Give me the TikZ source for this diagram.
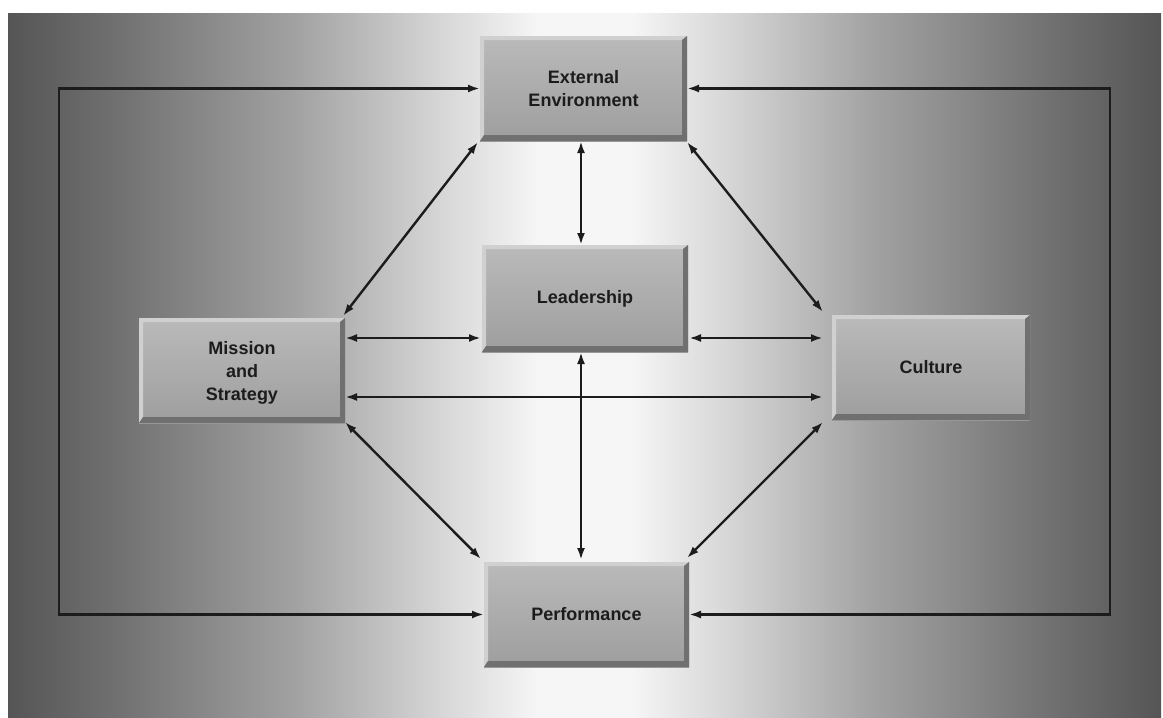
\documentclass[tikz,border=0pt]{standalone}
\usepackage{fontspec}
\setmainfont{Liberation Sans}
\usetikzlibrary{arrows.meta,calc}
\definecolor{g1}{HTML}{555555}
\definecolor{g2}{HTML}{727272}
\definecolor{g3}{HTML}{A2A2A2}
\definecolor{g4}{HTML}{D8D8D8}
\definecolor{g5}{HTML}{F6F6F6}
\definecolor{boxtop}{HTML}{BABABA}
\definecolor{boxbot}{HTML}{9E9E9E}
\definecolor{bevlight}{HTML}{D0D0D0}
\definecolor{bevdark}{HTML}{707070}
\definecolor{ink}{HTML}{1C1C1C}
\pgfdeclarehorizontalshading{bgshade}{100bp}{color(0bp)=(g1); color(25bp)=(g1); color(30bp)=(g2); color(37.5bp)=(g3); color(44bp)=(g4); color(48bp)=(g5); color(52bp)=(g5); color(56bp)=(g4); color(62.5bp)=(g3); color(70bp)=(g2); color(75bp)=(g1); color(100bp)=(g1)}
\begin{document}
\begin{tikzpicture}[x=1pt,y=-1pt,
  boxnode/.style={rectangle, inner sep=0pt, outer sep=0pt, top color=boxtop, bottom color=boxbot,
    minimum height=105pt, align=center, text=ink,
    font=\bfseries\fontsize{18}{23}\selectfont,
    path picture={
      \fill[bevlight] (path picture bounding box.north west) -- (path picture bounding box.north east)
        -- ([xshift=-5pt,yshift=-4pt]path picture bounding box.north east)
        -- ([xshift=4pt,yshift=-4pt]path picture bounding box.north west)
        -- ([xshift=4pt,yshift=6pt]path picture bounding box.south west)
        -- (path picture bounding box.south west) -- cycle;
      \fill[bevdark] (path picture bounding box.south west) -- (path picture bounding box.south east)
        -- (path picture bounding box.north east)
        -- ([xshift=-5pt,yshift=-4pt]path picture bounding box.north east)
        -- ([xshift=-5pt,yshift=6pt]path picture bounding box.south east)
        -- ([xshift=4pt,yshift=6pt]path picture bounding box.south west) -- cycle;
    }},
  link/.style={draw=ink, line width=2.4pt, {Latex[length=12pt,width=8pt]}-{Latex[length=12pt,width=8pt]}},
  framelink/.style={link, line join=miter}
]
\useasboundingbox (0,0) rectangle (1163,718);
\fill[white] (0,0) rectangle (1163,718);
\shade[shading=bgshade] (8,13) rectangle (1161,718);

\node[boxnode, minimum width=207pt] (ext) at (583.5,88.5) {External\\Environment};
\node[boxnode, minimum width=206pt, minimum height=107pt] (lea) at (585,298.5) {Leadership};
\node[boxnode, minimum width=206pt, text depth=-6pt] (mis) at (242,370.5) {Mission\\and\\Strategy};
\node[boxnode, minimum width=198pt] (cul) at (931,367.5) {Culture};
\node[boxnode, minimum width=205pt] (perf) at (586.5,614.5) {Performance};

\coordinate (vx) at (581,0);
\coordinate (h1) at (0,338);
\coordinate (h2) at (0,397);
\coordinate (fl) at (59,0);
\coordinate (fr) at (1110,0);
\coordinate (culnw) at ($(cul.north west)+(-9,-3)$);
\coordinate (culsw) at ($(cul.south west)+(-9,2)$);
\coordinate (perfne) at ($(perf.north east)+(-2,-4)$);

% outer frame
\draw[framelink] (ext.west) -| (fl |- perf.west) -- (perf.west);
\draw[framelink] (ext.east) -| (fr |- perf.east) -- (perf.east);

% diagonals
\draw[link] ($(ext.south west)+(-2,1)$) -- ($(mis.north east)+(-2,-2)$);
\draw[link] ($(ext.south east)+(0,1)$) -- (culnw);
\draw[link] ($(mis.south east)+(0,-1)$) -- ($(perf.north west)+(-3,-3)$);
\draw[link] (culsw) -- (perfne);

% verticals
\draw[link] (vx |- ext.south) -- (vx |- lea.north);
\draw[link] (vx |- lea.south) -- ($(vx |- perf.north)+(0,-2)$);

% horizontals
\draw[link] (mis.east |- h1) -- ($(lea.west |- h1)+(-1,0)$);
\draw[link] ($(lea.east |- h1)+(1,0)$) -- ($(cul.west |- h1)+(-9,0)$);
\draw[link] (mis.east |- h2) -- ($(cul.west |- h2)+(-9,0)$);
\end{tikzpicture}
\end{document}
